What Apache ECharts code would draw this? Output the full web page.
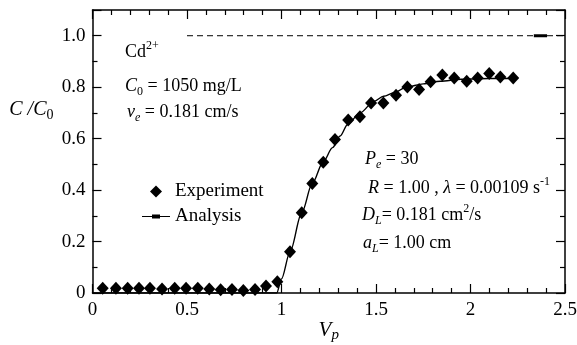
<!DOCTYPE html>
<html><head><meta charset="utf-8">
<script src="https://cdn.jsdelivr.net/npm/echarts@6/dist/echarts.min.js"></script>
<style>html,body{margin:0;padding:0;background:#fff}#c{width:577px;height:345px}</style>
</head><body><div id="c"></div>
<script>
// Experiment (diamonds)
const expX = [0.054,0.124,0.186,0.246,0.304,0.368,0.435,0.495,0.557,0.618,0.678,0.738,0.798,0.860,0.918,0.978,1.045,1.107,1.163,1.221,1.283,1.353,1.415,1.474,1.539,1.606,1.666,1.728,1.789,1.851,1.914,1.980,2.038,2.099,2.158,2.226];
const expY = [0.018,0.018,0.018,0.018,0.018,0.016,0.018,0.018,0.018,0.016,0.013,0.014,0.010,0.014,0.027,0.044,0.160,0.312,0.426,0.508,0.597,0.672,0.685,0.739,0.739,0.769,0.801,0.791,0.821,0.847,0.836,0.823,0.836,0.853,0.840,0.836];
// Analysis (solid curve)
const fitX = [0,0.975,1.0,1.045,1.107,1.163,1.221,1.27,1.31,1.35,1.415,1.49,1.54,1.60,1.66,1.75,1.84,1.95,2.05,2.15,2.25];
const fitY = [0,0,0.055,0.160,0.312,0.426,0.510,0.565,0.610,0.655,0.700,0.745,0.765,0.780,0.800,0.813,0.823,0.831,0.833,0.834,0.835];
// Reference level C/C0 = 1
const refX = [0.5, 2.5];
const refY = [1.0, 1.0];
const segX = [2.335, 2.405];
const segY = [1.0, 1.0];
// Axis ranges
const xMin = 0, xMax = 2.5, xStep = 0.5;
const yMin = 0, yMax = 1.1, yStep = 0.2;

const F = 'Liberation Serif, Times New Roman, serif';
const zip = (a, b) => a.map((v, i) => [v, b[i]]);

const chart = echarts.init(document.getElementById('c'), null, {renderer: 'canvas'});
const axisLine = {show: true, onZero: false, lineStyle: {color: '#000', width: 1.5}};
const tick = {show: true, inside: true, length: 9, lineStyle: {color: '#000', width: 1.2}};
const minor = (n) => ({show: true, splitNumber: n, length: 5, lineStyle: {color: '#000', width: 1.2}});
const fmtX = v => (Math.abs(v - Math.round(v)) < 1e-9 ? String(Math.round(v)) : v.toFixed(1));
const fmtY = v => (v > 1.05 ? '' : (v === 0 ? '0' : v.toFixed(1)));

const sub = {fontFamily: F, fontSize: 12, verticalAlign: 'bottom', lineHeight: 14};
const subI = Object.assign({}, sub, {fontStyle: 'italic'});
const sup = {fontFamily: F, fontSize: 12, verticalAlign: 'top', lineHeight: 14};
const it = {fontFamily: F, fontSize: 18, fontStyle: 'italic', lineHeight: 24};
const n = {fontFamily: F, fontSize: 18, lineHeight: 24};
const rich = {i: it, n: n, s: sub, si: subI, u: sup};
function txt(x, y, text, fs) {
  return {type: 'text', x: x, y: y, style: {text: text, rich: rich, fill: '#000', font: (fs || 18) + 'px ' + F, verticalAlign: 'middle', align: 'left'}};
}

chart.setOption({
  animation: false,
  backgroundColor: '#fff',
  grid: {left: 92.5, right: 12, top: 10, bottom: 52, containLabel: false, outerBoundsMode: 'none'},
  xAxis: [
    {type: 'value', min: xMin, max: xMax, interval: xStep, position: 'bottom',
     axisLine: axisLine, axisTick: tick, minorTick: minor(5), splitLine: {show: false},
     axisLabel: {color: '#000', fontFamily: F, fontSize: 19, margin: 8, formatter: fmtX},
     name: '{i|V}{si|p}', nameLocation: 'middle', nameGap: 24, nameMoveOverlap: false,
     nameTextStyle: {rich: {i: {fontFamily: F, fontSize: 21, fontStyle: 'italic', lineHeight: 26}, si: {fontFamily: F, fontSize: 15, fontStyle: 'italic', verticalAlign: 'bottom', lineHeight: 16}}}},
    {type: 'value', min: xMin, max: xMax, interval: xStep, position: 'top',
     axisLine: axisLine, axisTick: tick, minorTick: minor(5), splitLine: {show: false}, axisLabel: {show: false}}
  ],
  yAxis: [
    {type: 'value', min: yMin, max: yMax, interval: yStep, position: 'left',
     axisLine: axisLine, axisTick: tick, minorTick: minor(2), splitLine: {show: false},
     axisLabel: {color: '#000', fontFamily: F, fontSize: 19, margin: 7, formatter: fmtY},
     name: '{i|C /C}{s|0}', nameLocation: 'middle', nameRotate: 0, nameGap: 39, nameMoveOverlap: false,
     nameTextStyle: {padding: [0, 0, 84, 0], rich: {i: {fontFamily: F, fontSize: 20, fontStyle: 'italic', lineHeight: 26}, s: {fontFamily: F, fontSize: 14, verticalAlign: 'bottom', lineHeight: 16}}}},
    {type: 'value', min: yMin, max: yMax, interval: yStep, position: 'right',
     axisLine: axisLine, axisTick: tick, minorTick: minor(2), splitLine: {show: false}, axisLabel: {show: false}}
  ],
  legend: {
    data: [{name: 'Experiment', icon: 'path://M6,0L12,6L6,12L0,6Z'}, {name: 'Analysis', icon: 'path://M0,1.5H28V2.5H0Z M10,0H18V4H10Z'}],
    orient: 'vertical', left: 137, top: 177, itemWidth: 28, itemHeight: 12, itemGap: 6,
    symbolKeepAspect: true,
    textStyle: {color: '#000', fontFamily: F, fontSize: 19}
  },
  series: [
    {name: 'ref', type: 'line', data: zip(refX, refY), symbol: 'none', lineStyle: {color: '#000', width: 1, type: [6, 4]}, silent: true},
    {name: 'seg', type: 'line', data: zip(segX, segY), symbol: 'none', lineStyle: {color: '#000', width: 3}, silent: true},
    {name: 'Analysis', type: 'line', data: zip(fitX, fitY), showSymbol: false, symbol: 'none',
     smooth: 0.3, smoothMonotone: 'x', itemStyle: {color: '#000'}, lineStyle: {color: '#000', width: 1.4}, z: 3},
    {name: 'Experiment', type: 'scatter', data: zip(expX, expY), symbol: 'diamond', symbolSize: [12, 13],
     itemStyle: {color: '#000', opacity: 1}, z: 4}
  ],
  graphic: [
    txt(125, 52, '{n|Cd}{u|2+}'),
    txt(125, 86, '{i|C}{s|0}{n| = 1050 mg/L}'),
    txt(127, 112, '{i|v}{si|e}{n| = 0.181 cm/s}'),
    txt(365, 159, '{i|P}{si|e}{n| = 30}'),
    txt(368, 188, '{i|R}{n| = 1.00 , }{i|λ}{n| = 0.00109 s}{u|-1}'),
    txt(362, 215, '{i|D}{si|L}{n|= 0.181 cm}{u|2}{n|/s}'),
    txt(363, 243, '{i|a}{si|L}{n|= 1.00 cm}')
  ]
});
</script></body></html>
